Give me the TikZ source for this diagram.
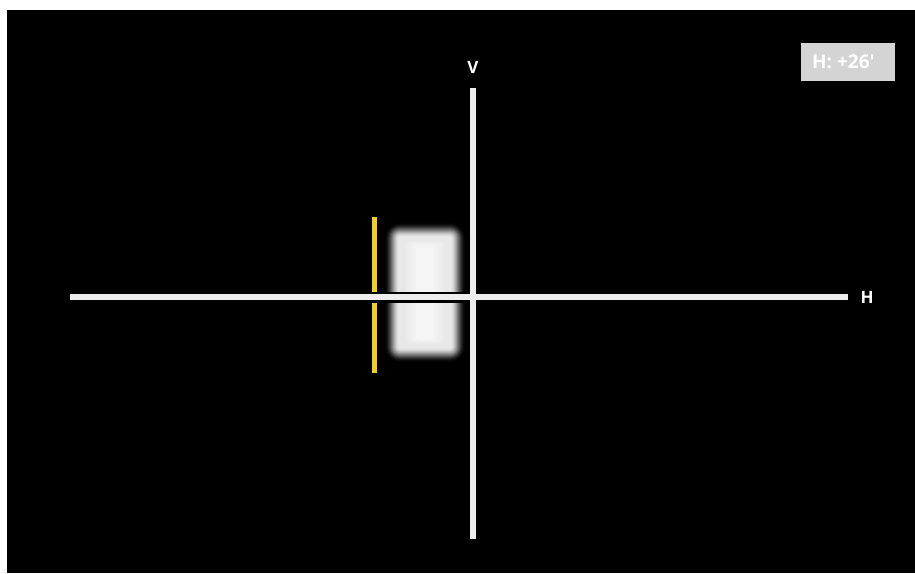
\documentclass[tikz,border=0pt]{standalone}
\usepackage{fontspec}
\setmainfont{Open Sans}
\definecolor{linegray}{HTML}{EDEDED}
\definecolor{badgegray}{HTML}{D4D4D4}
\definecolor{markyellow}{HTML}{F2CF1F}
\begin{document}
\begin{tikzpicture}[x=1pt,y=-1pt,
  axisline/.style={line width=5.5pt, draw=linegray, line cap=butt},
  haloline/.style={line width=11pt, draw=black, line cap=butt},
  marker/.style={line width=5pt, draw=markyellow, line cap=butt},
  lbl/.style={text=white, font=\bfseries\fontsize{17}{17}\selectfont, inner sep=0pt},
  badgetext/.style={text=white, font=\bfseries\fontsize{19}{19}\selectfont, inner sep=0pt},
  badgebox/.style={fill=badgegray, minimum width=94pt, minimum height=38pt, inner sep=0pt}]
\useasboundingbox (0,0) rectangle (915,573);
\fill[white] (0,0) rectangle (915,573);
\fill[black] (7,10) rectangle (915,573);
% yellow marker
\coordinate (yt) at (374.5,217);
\coordinate (yb) at (374.5,373);
\draw[marker] (yt) -- (yb);
% blurred rectangle
\foreach \i in {0,...,15} {
  \pgfmathsetmacro\tt{\i/15}
  \pgfmathsetmacro\pc{91*(3*\tt*\tt-2*\tt*\tt*\tt)}
  \pgfmathsetmacro\rr{max(1,16-\i)}
  \fill[white!\pc!black, rounded corners=\rr pt] (384+\i,222+\i) rectangle (466-\i,363-\i);
}
\foreach \j in {0,...,5} {
  \pgfmathsetmacro\pq{91+\j}
  \fill[white!\pq!black, rounded corners=4pt] (403+2.5*\j,240+\j) rectangle (447-2.5*\j,345-\j);
}
% axes
\coordinate (hl) at (70,297);
\coordinate (hr) at (848,297);
\coordinate (vt) at (473,88);
\coordinate (vb) at (473,539);
\draw[haloline] (hl) -- (hr);
\draw[haloline] (vt) -- (vb);
\draw[axisline] (vt) -- (vb);
\draw[axisline] (hl) -- (hr);
% labels
\node[lbl] (vlab) at (473,67) {V};
\node[lbl] (hlab) at (867,297) {H};
\node[badgebox] (badge) at (848,62) {};
\node[badgetext, anchor=west] (badgetxt) at (812,62) {H: +26\textquotesingle};
\end{tikzpicture}
\end{document}
